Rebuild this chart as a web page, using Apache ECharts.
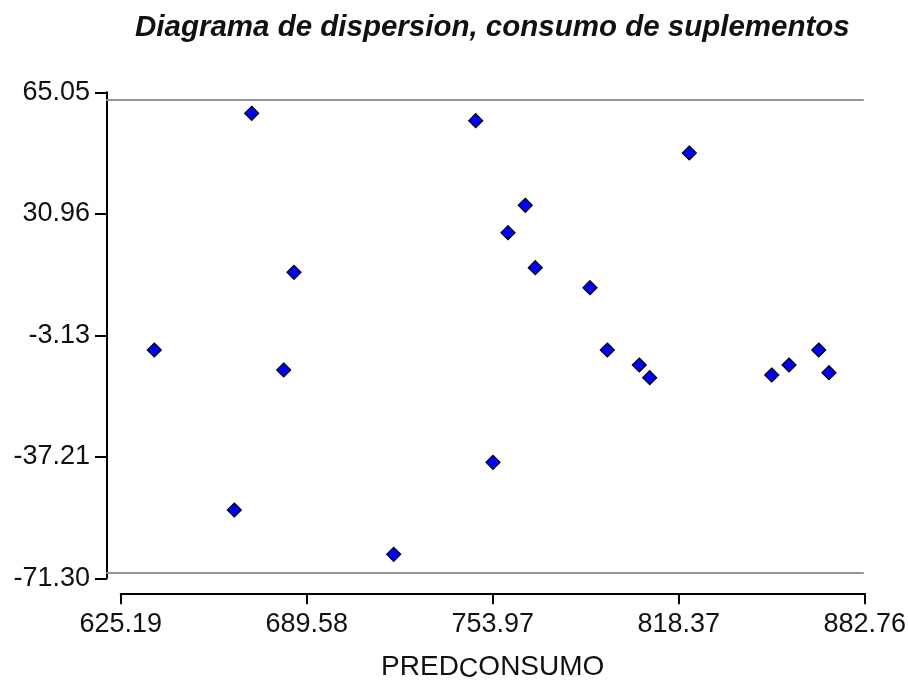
<!DOCTYPE html>
<html>
<head>
<meta charset="utf-8">
<script src="https://cdn.jsdelivr.net/npm/echarts@6/dist/echarts.min.js"></script>
<style>
html,body{margin:0;padding:0;background:#fff;}
#chart{width:908px;height:683px;}
</style>
</head>
<body>
<div id="chart"></div>
<script>
var chartTitle = 'Diagrama de dispersion, consumo de suplementos';
var xNameParts = ['PRED', 'C', 'ONSUMO'];
var predConsumo = [670.54, 685.19, 636.82, 681.62, 748.09, 822.04, 765.26, 759.27, 768.72, 787.66,
                   793.65, 804.73, 808.33, 850.57, 856.56, 866.84, 870.40, 664.52, 719.70, 754.08];
var residuo = [59.16, 14.55, -7.25, -12.86, 57.08, 48.02, 33.35, 25.66, 15.84, 10.23,
               -7.25, -11.46, -15.02, -14.26, -11.46, -7.25, -13.62, -52.14, -64.57, -38.76];
var xTicks = [625.19, 689.58, 753.97, 818.37, 882.76];
var yTicks = [65.05, 30.96, -3.13, -37.21, -71.30];

var points = predConsumo.map(function (x, i) { return [x, residuo[i]]; });
var FONT = 'Liberation Sans';

var chart = echarts.init(document.getElementById('chart'), null, {renderer: 'canvas'});
chart.setOption({
  backgroundColor: '#ffffff',
  animation: false,
  title: {
    text: chartTitle,
    left: 135,
    top: 11,
    padding: 0,
    textStyle: {
      fontFamily: FONT, fontSize: 29.5, fontWeight: 'bold', fontStyle: 'italic',
      color: '#111', lineHeight: 34
    }
  },
  grid: [
    {left: 120.7, right: 43.3, top: 92.3, bottom: 104.7, containLabel: false, outerBoundsMode: 'none'},
    {left: 107, right: 45, top: 99.3, bottom: 110, containLabel: false, outerBoundsMode: 'none'}
  ],
  xAxis: [
    {
      type: 'value', gridIndex: 0, position: 'bottom', offset: 15,
      min: xTicks[0], max: xTicks[xTicks.length - 1],
      splitLine: {show: false},
      axisLine: {show: true, onZero: false, lineStyle: {color: '#000', width: 2}},
      axisTick: {show: true, length: 11, lineStyle: {color: '#000', width: 2}, customValues: xTicks},
      axisLabel: {
        show: true, margin: 18, customValues: xTicks,
        fontFamily: FONT, fontSize: 27, color: '#111',
        formatter: function (v) { return Number(v).toFixed(2); }
      },
      name: '{a|' + xNameParts[0] + '}{b|' + xNameParts[1] + '}{a|' + xNameParts[2] + '}',
      nameLocation: 'middle',
      nameGap: 60,
      nameTextStyle: {
        rich: {
          a: {fontFamily: FONT, fontSize: 28, color: '#111', lineHeight: 30, verticalAlign: 'top'},
          b: {fontFamily: FONT, fontSize: 27, color: '#111', lineHeight: 30, verticalAlign: 'bottom', padding: [9, 0, 0, 0]}
        }
      }
    },
    {
      type: 'value', gridIndex: 1, position: 'top', min: 0, max: 1,
      axisLine: {show: true, onZero: false, lineStyle: {color: '#959595', width: 2}},
      axisTick: {show: false}, axisLabel: {show: false}, splitLine: {show: false}
    },
    {
      type: 'value', gridIndex: 1, position: 'bottom', min: 0, max: 1,
      axisLine: {show: true, onZero: false, lineStyle: {color: '#959595', width: 2}},
      axisTick: {show: false}, axisLabel: {show: false}, splitLine: {show: false}
    }
  ],
  yAxis: [
    {
      type: 'value', gridIndex: 0, position: 'left', offset: 13.7,
      min: yTicks[yTicks.length - 1], max: yTicks[0],
      splitLine: {show: false},
      axisLine: {show: true, onZero: false, lineStyle: {color: '#000', width: 2}},
      axisTick: {show: true, length: 12, lineStyle: {color: '#000', width: 2}, customValues: yTicks},
      axisLabel: {
        show: true, margin: 17, customValues: yTicks,
        fontFamily: FONT, fontSize: 27, color: '#111',
        formatter: function (v) { return Number(v).toFixed(2); }
      }
    },
    {
      type: 'value', gridIndex: 1, min: 0, max: 1, show: false
    }
  ],
  series: [
    {
      type: 'scatter', xAxisIndex: 0, yAxisIndex: 0,
      data: points,
      symbol: 'diamond', symbolSize: 14,
      itemStyle: {color: '#0000ff', borderColor: '#000', borderWidth: 1.2, opacity: 1},
      z: 5
    }
  ]
});
</script>
</body>
</html>
